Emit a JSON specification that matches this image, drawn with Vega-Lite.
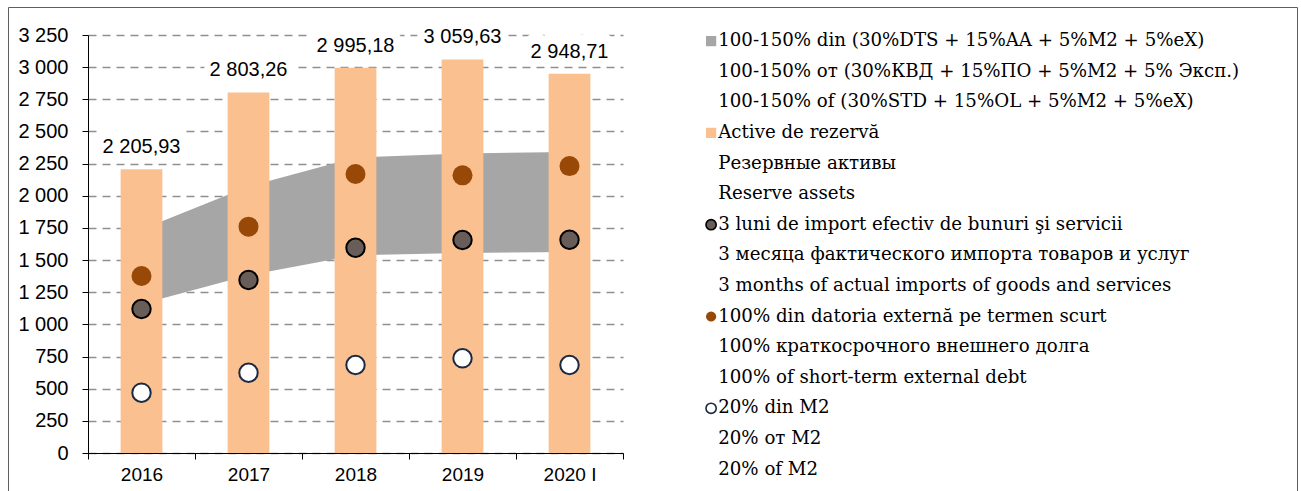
{
  "$schema": "https://vega.github.io/schema/vega-lite/v6.json",
  "autosize": "none",
  "padding": {"left": 8, "top": 7, "right": 4, "bottom": 0},
  "width": 1289,
  "height": 484,
  "config": {
    "locale": {"number": {"decimal": ",", "thousands": " ", "grouping": [3], "currency": ["", ""]}},
    "view": {"stroke": "#5f5f5f", "strokeWidth": 1},
    "font": "Liberation Sans"
  },
  "data": {
    "values": [
      {"year": "2016", "reserve": 2205.93, "low": 1158, "high": 1737, "imp": 1120, "std": 1376, "m2": 469},
      {"year": "2017", "reserve": 2803.26, "low": 1382, "high": 2072, "imp": 1345, "std": 1760, "m2": 624},
      {"year": "2018", "reserve": 2995.18, "low": 1537, "high": 2298, "imp": 1596, "std": 2169, "m2": 684},
      {"year": "2019", "reserve": 3059.63, "low": 1555, "high": 2328, "imp": 1656, "std": 2159, "m2": 736},
      {"year": "2020 I", "reserve": 2948.71, "low": 1563, "high": 2341, "imp": 1658, "std": 2231, "m2": 684}
    ]
  },
  "encoding": {
    "x": {
      "field": "year",
      "type": "nominal",
      "sort": null,
      "scale": {"type": "band", "range": [80, 615], "paddingInner": 0, "paddingOuter": 0},
      "axis": {
        "title": null,
        "offset": -38,
        "tickBand": "extent",
        "tickSize": 6,
        "tickColor": "black",
        "domainColor": "black",
        "domainWidth": 1,
        "labelAngle": 0,
        "labelFontSize": 19,
        "labelColor": "black",
        "labelPadding": 6,
        "grid": false
      }
    }
  },
  "layer": [
    {
      "mark": {"type": "area", "opacity": 1},
      "encoding": {
        "y": {
          "field": "low",
          "type": "quantitative",
          "scale": {"domain": [0, 3250], "range": [446, 28], "nice": false, "zero": true},
          "axis": {"title": null, "offset": -80, "values": [0, 250, 500, 750, 1000, 1250, 1500, 1750, 2000, 2250, 2500, 2750, 3000, 3250], "format": ",d", "tickSize": 6, "tickColor": "black", "domainColor": "black", "labelFontSize": 20, "labelColor": "black", "labelPadding": 14, "labelOverlap": false, "grid": true, "gridColor": "#8f8f8f", "gridWidth": 1.6, "gridDash": [8, 6]}
        },
        "y2": {"field": "high"},
        "color": {
          "datum": "a1",
          "scale": {
            "domain": ["a1", "a2", "a3", "b1", "b2", "b3", "c1", "c2", "c3", "d1", "d2", "d3", "e1", "e2", "e3"],
            "range": ["#A6A6A6", "transparent", "transparent", "#FAC090", "transparent", "transparent", "#685D58", "transparent", "transparent", "#984807", "transparent", "transparent", "#FFFFFF", "transparent", "transparent"]
          },
          "legend": {
            "orient": "none",
            "legendX": 694,
            "legendY": 25,
            "title": null,
            "padding": 0,
            "labelFont": "DejaVu Serif",
            "labelFontSize": 18.2,
            "labelColor": "black",
            "labelLimit": 700,
            "labelOffset": -2,
            "rowPadding": 11.6,
            "symbolSize": 105,
            "symbolOpacity": 1,
            "symbolStrokeWidth": 1.6,
            "symbolType": {"expr": "datum.value == 'a1' || datum.value == 'b1' ? 'square' : 'circle'"},
            "symbolStrokeColor": {"expr": "datum.value == 'c1' ? '#000000' : datum.value == 'e1' ? '#1B2A44' : 'transparent'"},
            "labelExpr": "{'a1': '100-150% din (30%DTS + 15%AA + 5%M2 + 5%eX)', 'a2': '100-150% от (30%КВД  + 15%ПО + 5%M2 + 5% Эксп.)', 'a3': '100-150% of (30%STD + 15%OL + 5%M2 + 5%eX)', 'b1': 'Active de rezervă', 'b2': 'Резервные активы', 'b3': 'Reserve assets', 'c1': '3 luni de import efectiv de bunuri şi servicii', 'c2': '3 месяца фактического импорта товаров и услуг', 'c3': '3 months of actual imports of goods and services', 'd1': '100% din datoria externă pe termen scurt', 'd2': '100% краткосрочного внешнего долга', 'd3': '100% of short-term external debt', 'e1': '20% din M2', 'e2': '20% от M2', 'e3': '20% of M2'}[datum.value]"
          }
        }
      }
    },
    {
      "mark": {"type": "bar", "width": {"band": 0.39}, "color": "#FAC090"},
      "encoding": {
        "y": {
          "field": "reserve",
          "type": "quantitative",
          "axis": {"title": null, "offset": -80, "values": [0, 250, 500, 750, 1000, 1250, 1500, 1750, 2000, 2250, 2500, 2750, 3000, 3250], "format": ",d", "tickSize": 6, "tickColor": "black", "domainColor": "black", "labelFontSize": 20, "labelColor": "black", "labelPadding": 14, "labelOverlap": false, "grid": true, "gridColor": "#8f8f8f", "gridWidth": 1.6, "gridDash": [8, 6]}
        }
      }
    },
    {
      "mark": {"type": "point", "filled": true, "size": 340, "fill": "#685D58", "stroke": "#000000", "strokeWidth": 2, "opacity": 1},
      "encoding": {
        "y": {
          "field": "imp",
          "type": "quantitative",
          "axis": {"title": null, "offset": -80, "values": [0, 250, 500, 750, 1000, 1250, 1500, 1750, 2000, 2250, 2500, 2750, 3000, 3250], "format": ",d", "tickSize": 6, "tickColor": "black", "domainColor": "black", "labelFontSize": 20, "labelColor": "black", "labelPadding": 14, "labelOverlap": false, "grid": true, "gridColor": "#8f8f8f", "gridWidth": 1.6, "gridDash": [8, 6]}
        }
      }
    },
    {
      "mark": {"type": "point", "filled": true, "size": 400, "fill": "#984807", "strokeWidth": 0, "opacity": 1},
      "encoding": {
        "y": {
          "field": "std",
          "type": "quantitative",
          "axis": {"title": null, "offset": -80, "values": [0, 250, 500, 750, 1000, 1250, 1500, 1750, 2000, 2250, 2500, 2750, 3000, 3250], "format": ",d", "tickSize": 6, "tickColor": "black", "domainColor": "black", "labelFontSize": 20, "labelColor": "black", "labelPadding": 14, "labelOverlap": false, "grid": true, "gridColor": "#8f8f8f", "gridWidth": 1.6, "gridDash": [8, 6]}
        }
      }
    },
    {
      "mark": {"type": "point", "filled": true, "size": 340, "fill": "#FFFFFF", "stroke": "#1B2A44", "strokeWidth": 2, "opacity": 1},
      "encoding": {
        "y": {
          "field": "m2",
          "type": "quantitative",
          "axis": {"title": null, "offset": -80, "values": [0, 250, 500, 750, 1000, 1250, 1500, 1750, 2000, 2250, 2500, 2750, 3000, 3250], "format": ",d", "tickSize": 6, "tickColor": "black", "domainColor": "black", "labelFontSize": 20, "labelColor": "black", "labelPadding": 14, "labelOverlap": false, "grid": true, "gridColor": "#8f8f8f", "gridWidth": 1.6, "gridDash": [8, 6]}
        }
      }
    },
    {
      "mark": {"type": "text", "baseline": "middle", "dy": -26, "fontSize": 20, "fill": "white", "stroke": "white", "strokeWidth": 14, "strokeJoin": "round"},
      "encoding": {
        "y": {
          "field": "reserve",
          "type": "quantitative",
          "axis": {"title": null, "offset": -80, "values": [0, 250, 500, 750, 1000, 1250, 1500, 1750, 2000, 2250, 2500, 2750, 3000, 3250], "format": ",d", "tickSize": 6, "tickColor": "black", "domainColor": "black", "labelFontSize": 20, "labelColor": "black", "labelPadding": 14, "labelOverlap": false, "grid": true, "gridColor": "#8f8f8f", "gridWidth": 1.6, "gridDash": [8, 6]}
        },
        "text": {"field": "reserve", "type": "quantitative", "format": ",.2f"}
      }
    },
    {
      "mark": {"type": "text", "baseline": "middle", "dy": -22, "fontSize": 20, "fill": "black"},
      "encoding": {
        "y": {
          "field": "reserve",
          "type": "quantitative",
          "axis": {"title": null, "offset": -80, "values": [0, 250, 500, 750, 1000, 1250, 1500, 1750, 2000, 2250, 2500, 2750, 3000, 3250], "format": ",d", "tickSize": 6, "tickColor": "black", "domainColor": "black", "labelFontSize": 20, "labelColor": "black", "labelPadding": 14, "labelOverlap": false, "grid": true, "gridColor": "#8f8f8f", "gridWidth": 1.6, "gridDash": [8, 6]}
        },
        "text": {"field": "reserve", "type": "quantitative", "format": ",.2f"}
      }
    }
  ]
}
